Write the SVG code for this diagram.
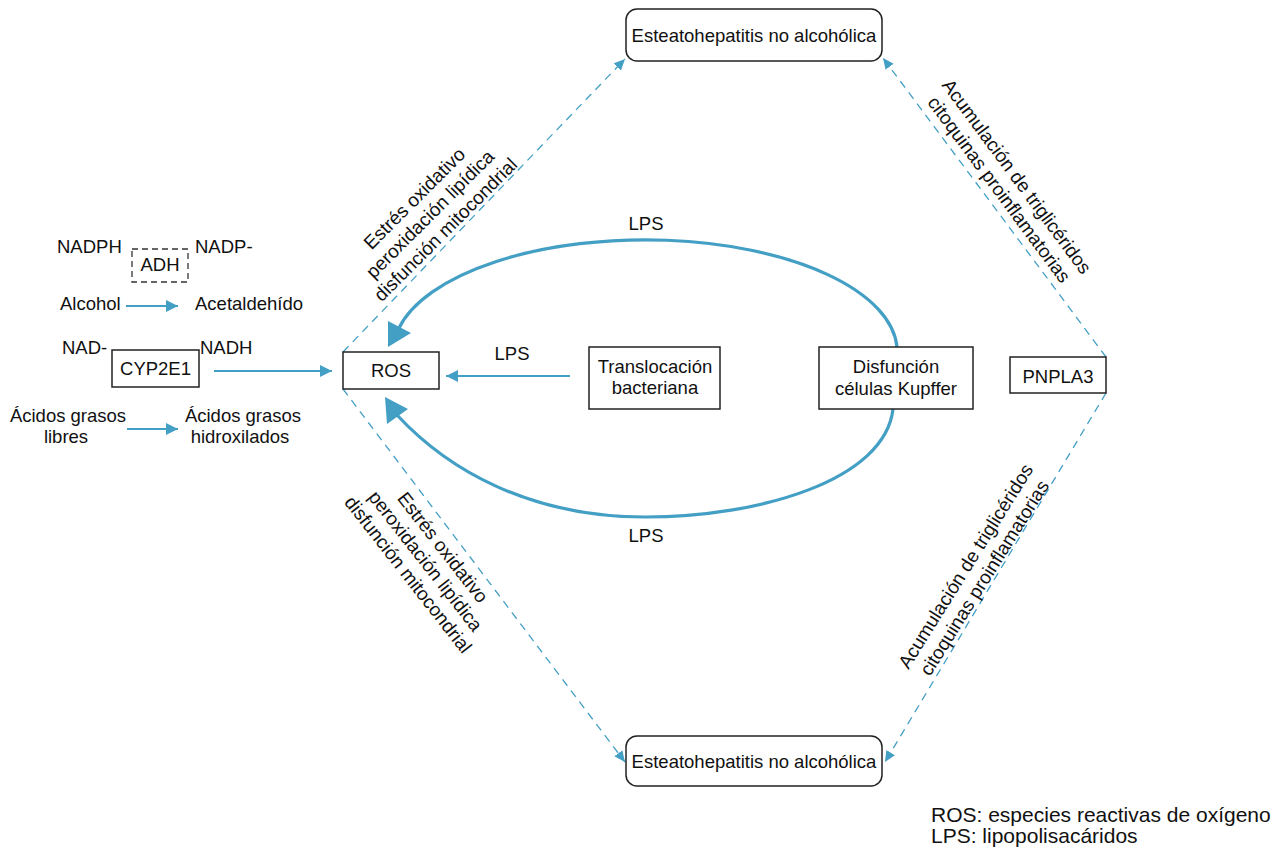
<svg xmlns="http://www.w3.org/2000/svg" width="1282" height="847" viewBox="0 0 1282 847">
<style>
text{font-family:"Liberation Sans",Arial,Helvetica,sans-serif;font-size:18.5px;fill:#111}
.m{text-anchor:middle}
.box{fill:#fff;stroke:#222;stroke-width:1.5}
.dbox{fill:#fff;stroke:#333;stroke-width:1.3;stroke-dasharray:6 4}
.sol{fill:none;stroke:#449fc5;stroke-width:2}
.dash{fill:none;stroke:#449fc5;stroke-width:1.3;stroke-dasharray:8 6}
.arc{fill:none;stroke:#449fc5;stroke-width:3.2}
.head{fill:#449fc5}
.leg{font-size:21px}
.rot{font-size:19px}
</style>
<defs>
<marker id="arrS" markerUnits="userSpaceOnUse" markerWidth="13" markerHeight="13" refX="12" refY="6" orient="auto"><path d="M0,0 L12,6 L0,12 z" fill="#449fc5"/></marker>
<marker id="arrD" markerUnits="userSpaceOnUse" markerWidth="12" markerHeight="12" refX="11" refY="5" orient="auto"><path d="M0,0 L11,5 L0,10 z" fill="#449fc5"/></marker>
</defs>

<g id="connectors">
<line class="sol" x1="126" y1="306" x2="178" y2="306" marker-end="url(#arrS)"/>
<line class="sol" x1="214" y1="371" x2="332" y2="371" marker-end="url(#arrS)"/>
<line class="sol" x1="127" y1="429" x2="178" y2="429" marker-end="url(#arrS)"/>
<line class="sol" x1="570" y1="376" x2="446" y2="376" marker-end="url(#arrS)"/>
<text class="m" x="512" y="360">LPS</text>
<path class="arc" d="M897,347 A252 112 0 0 0 399,328"/>
<polygon class="head" points="388,321 411,333 388,347"/>
<text class="m" x="646" y="230">LPS</text>
<path class="arc" d="M893,409 C885,480 760,517 645,517 C530,517 448,470 397,415"/>
<polygon class="head" points="385,397 408,409 387,424"/>
<text class="m" x="646" y="542">LPS</text>
<line class="dash" x1="343" y1="352" x2="625" y2="59" marker-end="url(#arrD)"/>
<line class="dash" x1="343" y1="389" x2="625" y2="762" marker-end="url(#arrD)"/>
<line class="dash" x1="1106" y1="357" x2="883" y2="58" marker-end="url(#arrD)"/>
<line class="dash" x1="1106" y1="393" x2="885" y2="762" marker-end="url(#arrD)"/>
<g transform="translate(430,214) rotate(-45)">
<text class="m rot" x="0" y="-15.5">Estrés oxidativo</text>
<text class="m rot" x="0" y="6.5">peroxidación lipídica</text>
<text class="m rot" x="0" y="28.5">disfunción mitocondrial</text>
</g>
<g transform="translate(425.5,561) rotate(52)">
<text class="m rot" x="0" y="-15.5">Estrés oxidativo</text>
<text class="m rot" x="0" y="6.5">peroxidación lipídica</text>
<text class="m rot" x="0" y="28.5">disfunción mitocondrial</text>
</g>
<g transform="translate(1008,183) rotate(53.5)">
<text class="m rot" x="0" y="-4.5">Acumulación de triglicéridos</text>
<text class="m rot" x="0" y="17.5">citoquinas proinflamatorias</text>
</g>
<g transform="translate(975,572) rotate(-58)">
<text class="m rot" x="0" y="-4.5">Acumulación de triglicéridos</text>
<text class="m rot" x="0" y="17.5">citoquinas proinflamatorias</text>
</g>
</g>

<g id="nash-top"><rect class="box" x="626" y="9" width="256" height="52" rx="11"/><text class="m" x="754" y="42">Esteatohepatitis no alcohólica</text></g>
<g id="nash-bottom"><rect class="box" x="626" y="736" width="256" height="50" rx="11"/><text class="m" x="754" y="768">Esteatohepatitis no alcohólica</text></g>
<g id="ros"><rect class="box" x="343" y="352" width="96" height="37"/><text class="m" x="391" y="377">ROS</text></g>
<g id="translocacion"><rect class="box" x="589" y="347" width="131" height="62"/><text class="m" x="655" y="373">Translocación</text><text class="m" x="655" y="394">bacteriana</text></g>
<g id="kupffer"><rect class="box" x="819" y="347" width="154" height="62"/><text class="m" x="896" y="373">Disfunción</text><text class="m" x="896" y="395">células Kupffer</text></g>
<g id="pnpla3"><rect class="box" x="1010" y="357" width="96" height="36"/><text class="m" x="1058" y="383">PNPLA3</text></g>
<g id="adh"><rect class="dbox" x="132" y="249" width="56" height="33"/><text class="m" x="160" y="271">ADH</text></g>
<g id="cyp2e1"><rect class="box" x="112" y="350" width="87" height="37"/><text class="m" x="155.5" y="375">CYP2E1</text></g>
<g id="labels-left">
<text x="57" y="253">NADPH</text>
<text x="195" y="253">NADP-</text>
<text x="60" y="310">Alcohol</text>
<text x="195" y="310">Acetaldehído</text>
<text x="62" y="354">NAD-</text>
<text x="200" y="354">NADH</text>
<text class="m" x="68" y="422">Ácidos grasos</text>
<text class="m" x="66" y="443">libres</text>
<text class="m" x="243" y="422">Ácidos grasos</text>
<text class="m" x="240" y="443">hidroxilados</text>
</g>
<g id="legend">
<text class="leg" x="931" y="822">ROS: especies reactivas de oxígeno</text>
<text class="leg" x="931" y="843">LPS: lipopolisacáridos</text>
</g>
</svg>
